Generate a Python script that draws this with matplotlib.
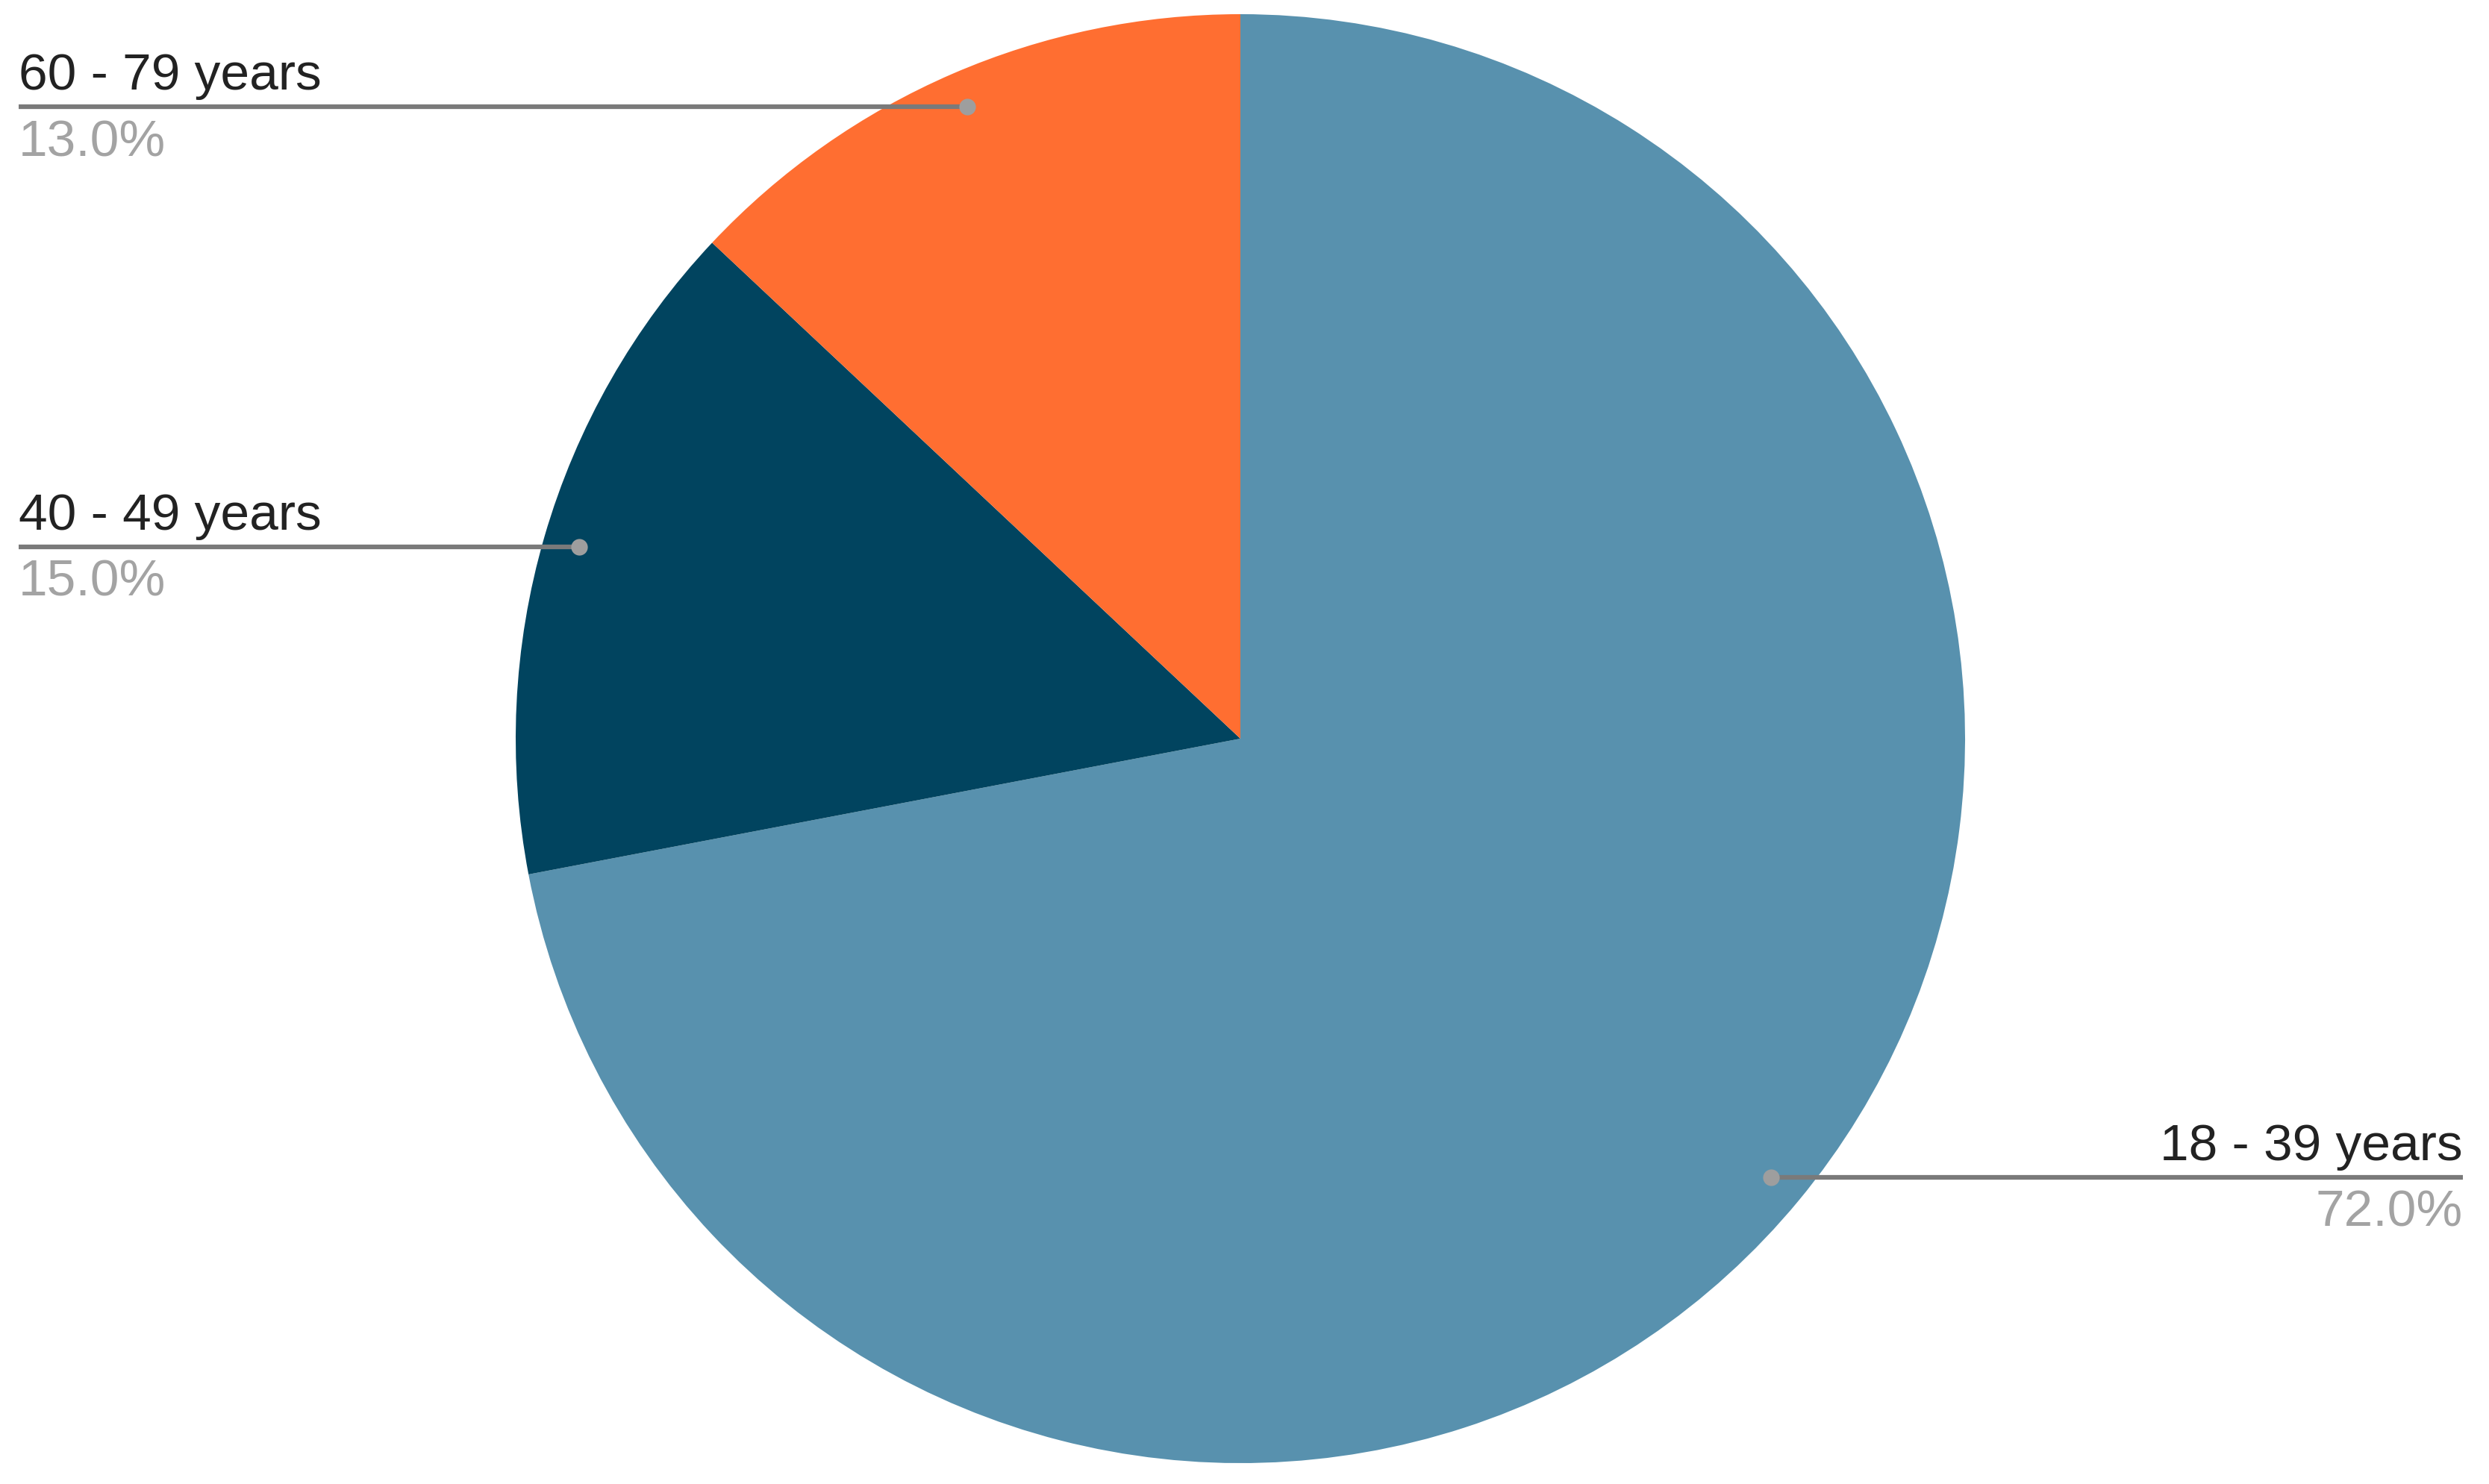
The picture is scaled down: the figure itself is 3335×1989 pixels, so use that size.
import numpy as np
import matplotlib.pyplot as plt

plt.rcParams['font.family'] = ['Liberation Sans', 'DejaVu Sans']

labels = ['18 - 39 years', '40 - 49 years', '60 - 79 years']
values = [72.0, 15.0, 13.0]
colors = ['#5891ae', '#01445f', '#ff6e31']

W, H = 3335, 1990
fig = plt.figure(figsize=(W / 100, H / 100), dpi=100)
ax = fig.add_axes([0, 0, 1, 1])

cx, cy, r = 1662, H - 991, 971
wedges, _ = ax.pie(values, colors=colors, startangle=90, counterclock=False,
                   center=(cx, cy), radius=r, frame=True,
                   wedgeprops=dict(linewidth=0))
ax.set_xlim(0, W)
ax.set_ylim(0, H)
ax.axis('off')

for w, lab, v in zip(wedges, labels, values):
    ang = np.deg2rad((w.theta1 + w.theta2) / 2)
    px = cx + 0.95 * r * np.cos(ang)
    py = cy + 0.95 * r * np.sin(ang)
    if np.cos(ang) < 0:
        x_end, ha = 25, 'left'
    else:
        x_end, ha = 3300, 'right'
    ax.plot([x_end, px], [py, py], color='#7a7a7a', lw=4.5, solid_capstyle='butt')
    ax.plot(px, py, 'o', color='#9e9e9e', ms=16, mew=0)
    ax.text(x_end, py + 24, lab, ha=ha, va='baseline', fontsize=50, color='#222222')
    ax.text(x_end, py - 15, '%.1f%%' % v, ha=ha, va='top', fontsize=50, color='#a3a3a3')

fig.savefig('out.png', dpi=100, facecolor='white')
